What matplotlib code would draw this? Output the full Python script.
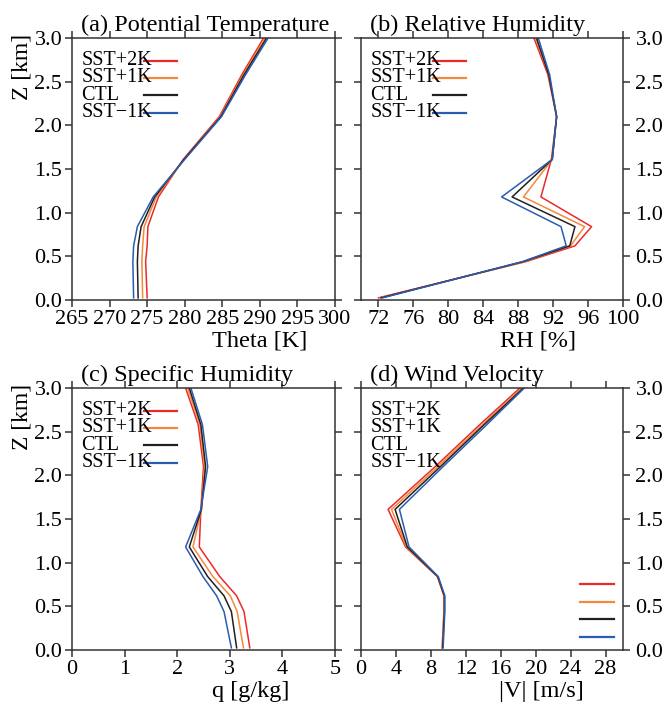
import numpy as np
import matplotlib
matplotlib.use("Agg")
import matplotlib.pyplot as plt

plt.rcParams['font.family'] = ['Liberation Serif', 'DejaVu Serif']

# model levels [km]
z = [0.025, 0.44, 0.62, 0.84, 1.18, 1.61, 2.10, 2.58, 3.0]

labels = ['SST+2K', 'SST+1K', 'CTL', 'SST\u22121K']
colors = ['#ec2a2a', '#f5893a', '#231f20', '#2a5cb0']

# (a) potential temperature [K]
theta_p2 = [275.0, 274.8, 275.0, 275.1, 276.5, 279.8, 284.6, 287.6, 290.5]
theta_p1 = [274.4, 274.3, 274.4, 274.6, 276.2, 279.9, 284.7, 287.8, 290.7]
theta_ctl = [273.8, 273.7, 273.8, 274.2, 276.0, 279.9, 284.8, 287.9, 290.9]
theta_m1 = [273.2, 273.1, 273.2, 273.7, 275.8, 280.0, 284.9, 288.1, 291.1]

# (b) relative humidity [%]
rh_p2 = [72.0, 88.9, 94.5, 96.4, 90.6, 91.8, 92.4, 91.4, 89.8]
rh_p1 = [72.2, 88.8, 94.0, 95.6, 88.6, 91.9, 92.4, 91.5, 90.0]
rh_ctl = [72.3, 88.6, 93.9, 94.5, 87.3, 91.9, 92.4, 91.5, 90.1]
rh_m1 = [72.5, 88.5, 93.5, 92.9, 86.1, 91.9, 92.4, 91.6, 90.3]

# (c) specific humidity [g/kg]
q_p2 = [3.38, 3.27, 3.13, 2.81, 2.42, 2.45, 2.50, 2.40, 2.16]
q_p1 = [3.26, 3.14, 3.01, 2.68, 2.30, 2.46, 2.52, 2.43, 2.20]
q_ctl = [3.13, 3.03, 2.89, 2.58, 2.23, 2.46, 2.54, 2.45, 2.23]
q_m1 = [3.03, 2.89, 2.75, 2.49, 2.16, 2.45, 2.58, 2.48, 2.26]

# (d) wind speed [m/s]
v_p2 = [9.3, 9.5, 9.5, 8.75, 5.1, 3.1, 8.5, 13.6, 18.2]
v_p1 = [9.3, 9.5, 9.5, 8.8, 5.2, 3.5, 8.8, 13.9, 18.4]
v_ctl = [9.35, 9.55, 9.55, 8.8, 5.3, 3.9, 9.1, 14.1, 18.6]
v_m1 = [9.4, 9.6, 9.6, 8.85, 5.5, 4.4, 9.4, 14.4, 18.7]

panels = [
    dict(title='(a) Potential Temperature', xlabel='Theta [K]', lx=0.715,
         data=[theta_p2, theta_p1, theta_ctl, theta_m1],
         xlim=(265, 300), xticks=np.arange(265, 301, 5), side='left'),
    dict(title='(b) Relative Humidity', xlabel='RH [%]', lx=0.675,
         data=[rh_p2, rh_p1, rh_ctl, rh_m1],
         xlim=(70, 100), xticks=np.arange(72, 101, 4), side='right'),
    dict(title='(c) Specific Humidity', xlabel='q [g/kg]', lx=0.68,
         data=[q_p2, q_p1, q_ctl, q_m1],
         xlim=(0, 5), xticks=np.arange(0, 6, 1), side='left'),
    dict(title='(d) Wind Velocity', xlabel='|V| [m/s]', lx=0.69,
         data=[v_p2, v_p1, v_ctl, v_m1],
         xlim=(0, 30), xticks=np.arange(0, 29, 4), side='right'),
]

fig = plt.figure(figsize=(6.67, 7.07), dpi=100)
W, H = 667, 707
boxes = [(72, 38, 335, 300), (361, 38, 623, 300),
         (72, 388, 335, 650), (361, 388, 623, 650)]

fs_tick = 16
for i, (p, b) in enumerate(zip(panels, boxes)):
    x0, y0, x1, y1 = b
    ax = fig.add_axes([x0 / W, 1 - y1 / H, (x1 - x0) / W, (y1 - y0) / H])
    for d, c in zip(p['data'], colors):
        ax.plot(d, z, color=c, lw=1.1)
    ax.set_xlim(*p['xlim'])
    ax.set_ylim(0, 3)
    ax.set_xticks(p['xticks'])
    ax.set_yticks(np.arange(0, 3.01, 0.5))
    ax.set_yticklabels(['%.1f' % v for v in np.arange(0, 3.01, 0.5)])
    for s in ax.spines.values():
        s.set_linewidth(1.1)
        s.set_color('#333333')
    ax.tick_params(direction='out', length=5, width=1.1, color='#333333',
                   top=True, right=True, labelsize=fs_tick, pad=2)
    if p['side'] == 'right':
        ax.tick_params(axis='y', labelleft=False, labelright=True, pad=4)
    else:
        ax.set_ylabel('Z [km]', fontsize=17)
        ax.yaxis.set_label_coords(-0.15, 0.89)
    ax.set_xlabel(p['xlabel'], fontsize=17.5)
    ax.xaxis.set_label_coords(p['lx'], -0.118)
    ax.text(0.035, 1.028, p['title'], transform=ax.transAxes,
            fontsize=17.5, va='baseline', ha='left')

    # hand-made legend: names at top-left, line samples beside or bottom-right
    rows = [0.914, 0.849, 0.782, 0.714]
    low_rows = [0.252, 0.183, 0.118, 0.050]
    for k, (lab, c) in enumerate(zip(labels, colors)):
        ax.text(0.035, rows[k], lab, transform=ax.transAxes,
                fontsize=14.5, va='center', ha='left')
        if i == 3:
            ax.plot([0.835, 0.965], [low_rows[k]] * 2, color=c, lw=1.6,
                    transform=ax.transAxes, clip_on=False)
        else:
            ax.plot([0.275, 0.40], [rows[k]] * 2, color=c, lw=1.6,
                    transform=ax.transAxes, clip_on=False)

fig.savefig('out.png', dpi=100)
